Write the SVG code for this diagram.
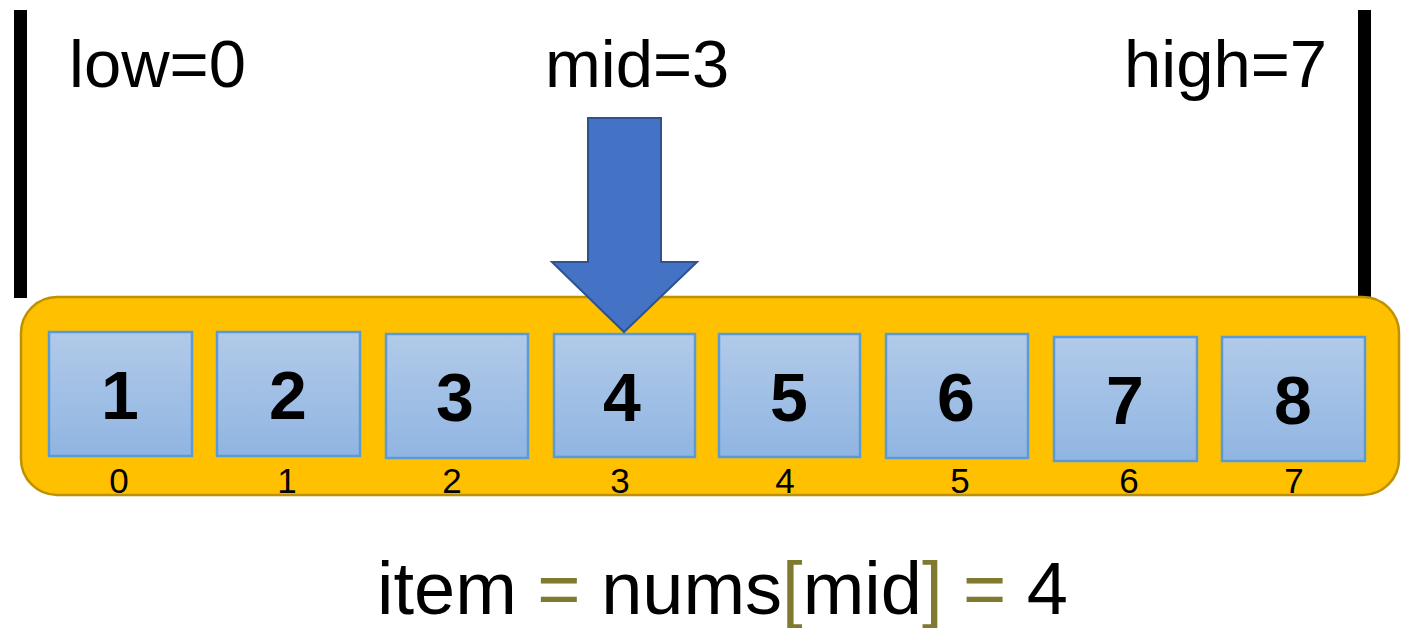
<svg xmlns="http://www.w3.org/2000/svg" width="1405" height="628" viewBox="0 0 1405 628">
  <style>
    .lbl { font-family: "Liberation Sans", Arial, sans-serif; font-size: 67px; fill: #000; }
    .cell { stroke: #5B9BD5; stroke-width: 2.5; fill: url(#cellFill); }
    .val { font-family: "Liberation Sans", Arial, sans-serif; font-weight: bold; font-size: 68px; fill: #000; text-anchor: middle; }
    .idx { font-family: "Liberation Sans", Arial, sans-serif; font-size: 35px; fill: #000; text-anchor: middle; }
    .expr { font-family: "Liberation Sans", Arial, sans-serif; font-size: 74px; fill: #000; }
    .op { fill: #7F7A30; }
  </style>
  <defs>
    <linearGradient id="cellFill" x1="0" y1="0" x2="0" y2="1">
      <stop offset="0" stop-color="#B1CAE9"/>
      <stop offset="1" stop-color="#90B5E2"/>
    </linearGradient>
  </defs>
  <rect width="1405" height="628" fill="#fff"/>

  <!-- bounds markers -->
  <g id="bounds">
    <rect x="14" y="10" width="13" height="288" fill="#000"/>
    <rect x="1358" y="10" width="13" height="288" fill="#000"/>
  </g>

  <!-- pointer labels -->
  <g id="labels">
    <text class="lbl" x="69" y="87">low=0</text>
    <text class="lbl" x="545" y="87">mid=3</text>
    <text class="lbl" x="1124" y="87">high=7</text>
  </g>

  <!-- array container -->
  <g id="array">
    <rect x="21" y="297" width="1378" height="198" rx="36" ry="36" fill="#FFC000" stroke="#BF9000" stroke-width="2.5"/>
  </g>

  <!-- array cells -->
  <g id="cell0"><rect class="cell" x="49" y="332" width="143" height="124"/><text class="val" x="120" y="419">1</text><text class="idx" x="119" y="493">0</text></g>
  <g id="cell1"><rect class="cell" x="217" y="332" width="143" height="124"/><text class="val" x="288" y="419">2</text><text class="idx" x="287" y="493">1</text></g>
  <g id="cell2"><rect class="cell" x="386" y="334" width="142" height="124"/><text class="val" x="455" y="421">3</text><text class="idx" x="452" y="493">2</text></g>
  <g id="cell3"><rect class="cell" x="554" y="334" width="141" height="123"/><text class="val" x="622" y="421">4</text><text class="idx" x="620" y="493">3</text></g>
  <g id="cell4"><rect class="cell" x="719" y="334" width="141" height="123"/><text class="val" x="789" y="421">5</text><text class="idx" x="785" y="493">4</text></g>
  <g id="cell5"><rect class="cell" x="886" y="334" width="142" height="124"/><text class="val" x="956" y="421">6</text><text class="idx" x="960" y="493">5</text></g>
  <g id="cell6"><rect class="cell" x="1054" y="337" width="143" height="124"/><text class="val" x="1125" y="424">7</text><text class="idx" x="1129" y="493">6</text></g>
  <g id="cell7"><rect class="cell" x="1222" y="337" width="143" height="124"/><text class="val" x="1293" y="424">8</text><text class="idx" x="1294" y="493">7</text></g>

  <!-- mid pointer -->
  <g id="connectors">
    <path d="M588,118 H661 V262 H697 L624,332 L552,262 H588 Z" fill="#4472C4" stroke="#2F528F" stroke-width="2"/>
  </g>

  <!-- result expression -->
  <g id="expression">
    <text class="expr" x="377" y="614">item <tspan class="op">=</tspan> nums<tspan class="op">[</tspan>mid<tspan class="op">]</tspan> <tspan class="op">=</tspan> 4</text>
  </g>
</svg>
